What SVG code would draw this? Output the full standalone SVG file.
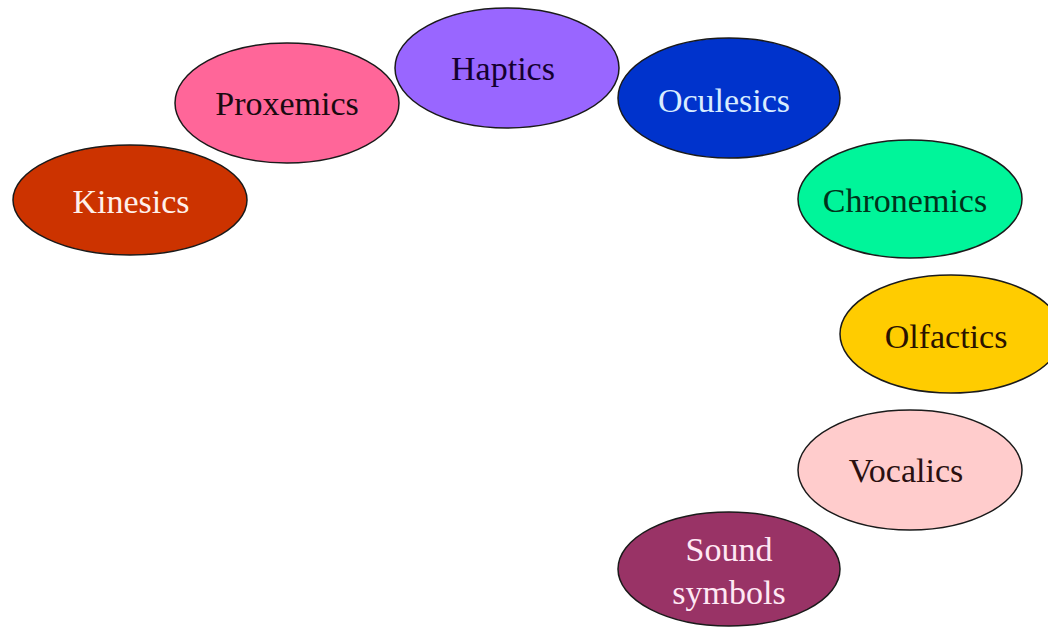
<svg xmlns="http://www.w3.org/2000/svg" width="1048" height="629" viewBox="0 0 1048 629">
<style>
.n ellipse{stroke:#1a1a1a;stroke-width:1.5}
.n text{font-family:"Liberation Serif","Times New Roman",serif;font-size:34px;text-anchor:middle}
.lt{fill:#FFF0EA}
.dk{fill:#1a0a10}
</style>
<rect width="1048" height="629" fill="#FFFFFF"/>
<g id="connectors"></g>
<g id="kinesics" class="n"><ellipse cx="130" cy="200" rx="117" ry="55" fill="#CC3300"/><text x="131" y="213" class="lt">Kinesics</text></g>
<g id="proxemics" class="n"><ellipse cx="287" cy="103" rx="112" ry="60" fill="#FF6699"/><text x="287" y="115" class="dk">Proxemics</text></g>
<g id="haptics" class="n"><ellipse cx="507" cy="68" rx="112" ry="60" fill="#9966FF"/><text x="503" y="80" fill="#140030">Haptics</text></g>
<g id="oculesics" class="n"><ellipse cx="729" cy="98" rx="111" ry="60" fill="#0033CC"/><text x="724" y="112" fill="#D8ECFF">Oculesics</text></g>
<g id="chronemics" class="n"><ellipse cx="910" cy="199" rx="112" ry="59" fill="#00F59A"/><text x="905" y="212" fill="#00331A">Chronemics</text></g>
<g id="olfactics" class="n"><ellipse cx="951" cy="334" rx="111" ry="59" fill="#FFCC00"/><text x="946" y="348" fill="#2a1200">Olfactics</text></g>
<g id="vocalics" class="n"><ellipse cx="910" cy="470" rx="112" ry="60" fill="#FFCCCC"/><text x="906" y="482" fill="#2a1010">Vocalics</text></g>
<g id="sound-symbols" class="n"><ellipse cx="729" cy="569" rx="111" ry="57" fill="#993366"/><text x="729" y="561" fill="#FFE8F4">Sound</text><text x="729" y="604" fill="#FFE8F4">symbols</text></g>
</svg>
